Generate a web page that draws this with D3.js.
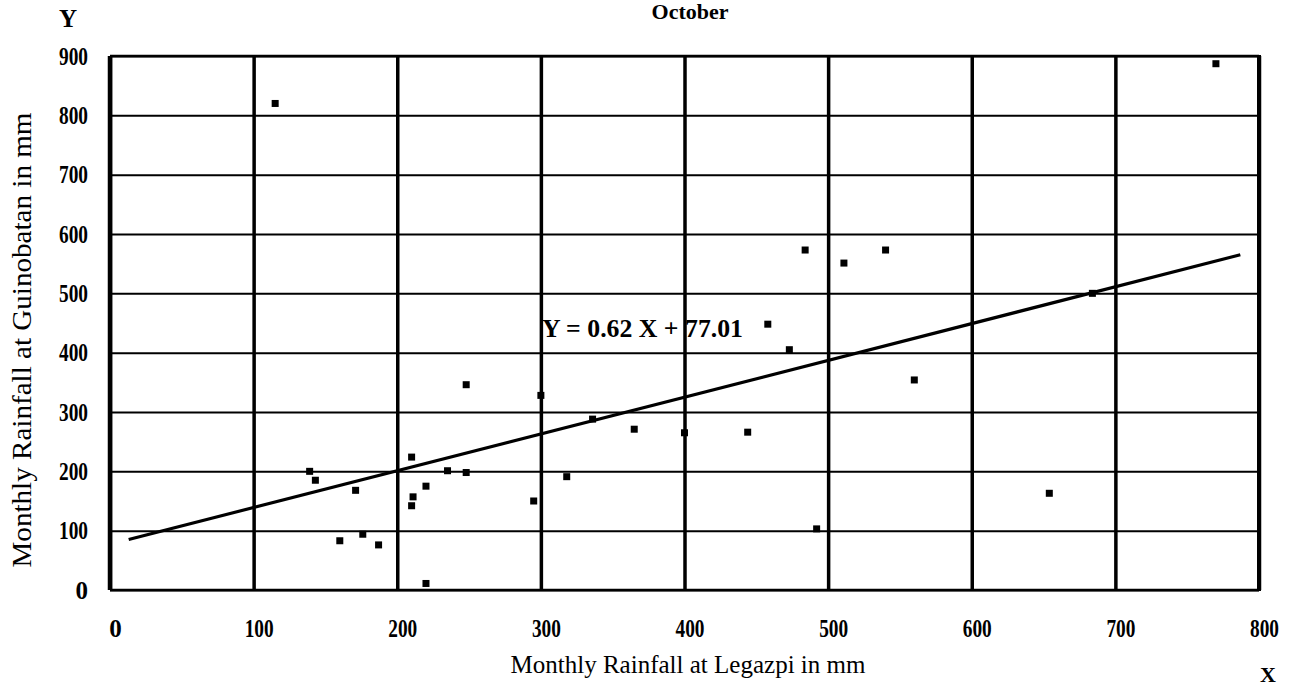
<!DOCTYPE html>
<html>
<head>
<meta charset="utf-8">
<script src="https://cdn.jsdelivr.net/npm/d3@7"></script>
<style>
  html, body { margin: 0; padding: 0; background: #fff; }
  svg { display: block; }
  text { font-family: "Liberation Serif", "Times New Roman", serif; fill: #000; }
</style>
</head>
<body>
<svg id="chart" width="1299" height="688"></svg>
<script>
// ---- data ----
const legazpi = [115, 770, 139, 143, 171, 160, 176, 187, 210, 220, 211, 210, 220, 235, 248,
                 248, 300, 336, 365, 400, 444, 484, 511, 540, 458, 473, 295, 318, 560, 492, 654, 684];
const guinobatan = [820, 887, 200, 185, 168, 83, 94, 76, 224, 175, 157, 142, 11, 201, 198,
                    346, 328, 288, 271, 265, 266, 573, 551, 573, 448, 405, 150, 191, 354, 103, 163, 500];
const xTicks = [0, 100, 200, 300, 400, 500, 600, 700, 800];
const yTicks = [0, 100, 200, 300, 400, 500, 600, 700, 800, 900];
const slope = 0.62, intercept = 77.01;
const fitRange = [13, 787];
const title = "October";
const xTitle = "Monthly Rainfall at Legazpi in mm";
const yTitle = "Monthly Rainfall at Guinobatan in mm";
const equation = "Y = 0.62 X + 77.01";

// ---- layout ----
const L = 110, R = 1259, T = 56, B = 590;
const svg = d3.select("#chart");
const x = d3.scaleLinear().domain([0, 800]).range([L, R]);
const y = d3.scaleLinear().domain([0, 900]).range([B, T]);

// horizontal grid lines
const gy = svg.append("g").attr("transform", `translate(${L},0)`)
  .call(d3.axisLeft(y).tickValues(yTicks).tickSize(-(R - L)).tickFormat(""));
gy.select(".domain").remove();
gy.selectAll(".tick line").attr("stroke", "#000").attr("stroke-width", 2);

// vertical grid lines
const gx = svg.append("g").attr("transform", `translate(0,${B})`)
  .call(d3.axisBottom(x).tickValues(xTicks).tickSize(-(B - T)).tickFormat(""));
gx.select(".domain").remove();
gx.selectAll(".tick line").attr("stroke", "#000").attr("stroke-width", 3.5);

// frame
svg.append("line").attr("x1", x(0)).attr("x2", x(0)).attr("y1", T).attr("y2", B)
  .attr("stroke", "#000").attr("stroke-width", 4.5);
svg.append("line").attr("x1", x(800)).attr("x2", x(800)).attr("y1", T - 1).attr("y2", B + 1)
  .attr("stroke", "#000").attr("stroke-width", 4);
svg.append("line").attr("x1", L).attr("x2", R).attr("y1", B).attr("y2", B)
  .attr("stroke", "#000").attr("stroke-width", 2.5);
svg.append("line").attr("x1", L).attr("x2", R).attr("y1", T).attr("y2", T)
  .attr("stroke", "#000").attr("stroke-width", 2.5);

// tick labels
function styleTick(sel) {
  sel.attr("font-size", 25).attr("font-weight", "bold")
    .attr("font-family", "Liberation Serif, serif")
    .each(function (d) {
      if (String(d).length === 3) {
        d3.select(this).attr("textLength", 29).attr("lengthAdjust", "spacingAndGlyphs");
      }
    });
}
const ly = svg.append("g").attr("transform", `translate(${L},0)`)
  .call(d3.axisLeft(y).tickValues(yTicks).tickSize(0).tickPadding(22).tickFormat(d3.format("d")));
ly.select(".domain").remove();
ly.selectAll("text").call(styleTick);

const lx = svg.append("g").attr("transform", `translate(5,${B})`)
  .call(d3.axisBottom(x).tickValues(xTicks).tickSize(0).tickPadding(29).tickFormat(d3.format("d")));
lx.select(".domain").remove();
lx.selectAll("text").call(styleTick);

// regression line
svg.append("line")
  .attr("x1", x(fitRange[0])).attr("y1", y(slope * fitRange[0] + intercept))
  .attr("x2", x(fitRange[1])).attr("y2", y(slope * fitRange[1] + intercept))
  .attr("stroke", "#000").attr("stroke-width", 3.2);

// points
const pts = legazpi.map((v, i) => ({ x: v, y: guinobatan[i] }));
const s = 7;
svg.append("g").selectAll("rect").data(pts).join("rect")
  .attr("x", d => x(d.x) - s / 2).attr("y", d => y(d.y) - s / 2)
  .attr("width", s).attr("height", s).attr("fill", "#000");

// equation
svg.append("text").attr("x", 542).attr("y", 337)
  .attr("font-size", 26).attr("font-weight", "bold")
  .attr("textLength", 201).attr("lengthAdjust", "spacingAndGlyphs").text(equation);

// titles
svg.append("text").attr("x", 690).attr("y", 19).attr("text-anchor", "middle")
  .attr("font-size", 22).attr("font-weight", "bold").text(title);
svg.append("text").attr("x", 688).attr("y", 673).attr("text-anchor", "middle")
  .attr("font-size", 26).attr("textLength", 355).attr("lengthAdjust", "spacingAndGlyphs").text(xTitle);
svg.append("text").attr("transform", `translate(31,340) rotate(-90)`).attr("text-anchor", "middle")
  .attr("font-size", 27).attr("textLength", 455).attr("lengthAdjust", "spacingAndGlyphs").text(yTitle);
svg.append("text").attr("x", 68).attr("y", 27).attr("text-anchor", "middle")
  .attr("font-size", 25).attr("font-weight", "bold").text("Y");
svg.append("text").attr("x", 1268).attr("y", 682).attr("text-anchor", "middle")
  .attr("font-size", 22).attr("font-weight", "bold").text("X");
</script>
</body>
</html>
